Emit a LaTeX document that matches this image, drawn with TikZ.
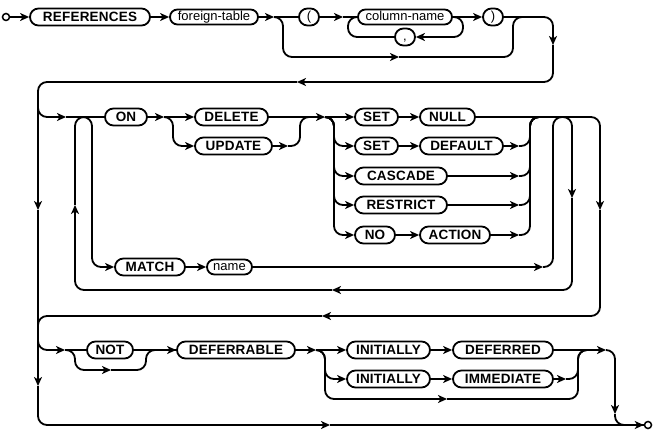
\documentclass[tikz,border=0pt]{standalone}
\usepackage{fontspec}
\newfontfamily\railidfam{Liberation Sans}
\newfontfamily\railkwfam{Liberation Sans}[LetterSpace=1.5]
\newcommand{\kwfont}{\railkwfam\bfseries\fontsize{13.5pt}{15pt}\selectfont}
\newcommand{\idfont}{\railidfam\fontsize{13pt}{15pt}\selectfont}
\usetikzlibrary{arrows.meta}
\tikzset{
  kwbox/.style={rectangle, rounded corners=8.5pt, draw, line width=1.8pt, minimum height=17pt, inner sep=0pt, text height=9.6pt, text depth=0pt, font=\kwfont},
  idbox/.style={rectangle, rounded corners=7.5pt, draw, line width=1.8pt, minimum height=15pt, inner sep=0pt, text height=9.3pt, text depth=2.7pt, font=\idfont},
  punct/.style={kwbox, minimum width=20pt, text depth=2.8pt, font=\idfont},
  endpt/.style={circle, draw, line width=1.5pt, minimum size=7pt, inner sep=0pt},
  rail/.style={line width=1.8pt, rounded corners=9pt},
  arr/.style={rail, -{Stealth[length=9pt, width=8pt, inset=2.5pt]}}
}

\begin{document}
\begin{tikzpicture}[x=1pt, y=-1pt]
  \useasboundingbox (0,0) rectangle (654,433);

  % REFERENCES foreign-table ( column-name, ... )
  \node[endpt] (start) at (6,17) {};
  \node[kwbox, minimum width=120pt] (refs) at (90,17) {REFERENCES};
  \node[idbox, minimum width=88pt] (ftab) at (214,17) {foreign-table};
  \node[punct] (lpar) at (309,17) {(};
  \node[idbox, minimum width=94pt] (colname) at (405,17) {column-name};
  \node[punct] (comma) at (405,37) {,};
  \node[punct] (rpar) at (493,17) {)};

  \coordinate (j1a) at (274,17);
  \coordinate (skipl) at (283,57);
  \coordinate (skipa) at (399,57);
  \coordinate (skipr) at (513,17);
  \coordinate (colin) at (343,17);
  \coordinate (colret) at (348,17);
  \coordinate (colout) at (463,17);
  \coordinate (dn1) at (553,45);
  \coordinate (back1) at (297,82);

  \draw[arr] (start) -- (refs);
  \draw[arr] (refs) -- (ftab);
  \draw[arr] (ftab) -- (j1a);
  \draw[rail] (j1a) -- (lpar);
  \draw[arr] (j1a) -| (skipl) -- (skipa);
  \draw[rail] (skipa) -| (skipr) -- ++(12,0);
  \draw[arr] (lpar) -- (colin);
  \draw[rail] (colin) -- (colname);
  \draw[arr] (colname.east) -| (colout |- comma.east) -- (comma.east);
  \draw[rail] (comma.west) -| (colret) -- (colname.west);
  \draw[arr] (colname.east) -- (rpar.west);
  \draw[arr] (rpar.east) -| (dn1);
  \draw[arr] (dn1) |- (back1);

  % ON DELETE/UPDATE action, MATCH name (repeated)
  \node[kwbox, minimum width=42pt] (on) at (126,117) {ON};
  \node[kwbox, minimum width=73pt] (del) at (231.5,117) {DELETE};
  \node[kwbox, minimum width=77pt] (upd) at (233.5,146) {UPDATE};
  \node[kwbox, minimum width=43pt] (set1) at (376.5,117) {SET};
  \node[kwbox, minimum width=55pt] (null) at (447.5,117) {NULL};
  \node[kwbox, minimum width=43pt] (set2) at (376.5,146) {SET};
  \node[kwbox, minimum width=83pt] (dflt) at (461.5,146) {DEFAULT};
  \node[kwbox, minimum width=92pt] (casc) at (401,176) {CASCADE};
  \node[kwbox, minimum width=92pt] (rstr) at (401,205) {RESTRICT};
  \node[kwbox, minimum width=40pt] (no) at (375,235) {NO};
  \node[kwbox, minimum width=70pt] (act) at (455,235) {ACTION};
  \node[kwbox, minimum width=70pt] (match) at (150,267) {MATCH};
  \node[idbox, minimum width=45pt] (name) at (229.5,267) {name};

  \coordinate (down1) at (38,210);
  \coordinate (onfork) at (38,100);
  \coordinate (lin) at (66,117);
  \coordinate (mv) at (92,117);
  \coordinate (loopup) at (75,205);
  \coordinate (onsplit) at (164,117);
  \coordinate (onv) at (173,117);
  \coordinate (updm) at (288,146);
  \coordinate (delm) at (300,117);
  \coordinate (actsplit) at (325,117);
  \coordinate (actv) at (334,117);
  \coordinate (actm) at (519,117);
  \coordinate (actmtop) at (530,117);
  \coordinate (mtchm) at (543,267);
  \coordinate (mtop) at (553,117);
  \coordinate (loopdn) at (572,198);
  \coordinate (loopbk) at (332,290);
  \coordinate (exitdn) at (600,210);
  \coordinate (exitbk) at (322,316);

  \draw[arr] (back1) -| (down1);
  \draw[arr] (onfork) |- (lin);
  \draw[rail] (lin) -- (on.west);
  \draw[arr] (lin) -| (mv |- match.west) -- (match.west);
  \draw[arr] (on.east) -- (onsplit);
  \draw[arr] (onsplit) -- (del.west);
  \draw[arr] (onsplit) -| (onv |- upd.west) -- (upd.west);
  \draw[arr] (del.east) -- (actsplit);
  \draw[arr] (upd.east) -- (updm);
  \draw[rail] (updm) -| (delm) -- ++(12,0);
  \draw[arr] (actsplit) -- (set1.west);
  \foreach \b in {set2, casc, rstr, no}
    \draw[arr] (actsplit) -| (actv |- \b.west) -- (\b.west);
  \draw[arr] (set1) -- (null);
  \draw[arr] (set2) -- (dflt);
  \draw[arr] (no) -- (act);
  \foreach \b in {dflt, casc, rstr, act} {
    \draw[arr] (\b.east) -- (\b.east -| actm);
    \draw[rail] (\b.east -| actm) -| (actmtop) -- ++(12,0);
  }
  \draw[arr] (match) -- (name);
  \draw[arr] (name.east) -- (mtchm);
  \draw[rail] (mtchm) -| (mtop) -- ++(12,0);
  \draw[arr] (mtop) -| (loopdn);
  \draw[arr] (loopdn) |- (loopbk);
  \draw[arr] (loopbk) -| (loopup);
  \draw[rail] (loopup) |- (on.west);
  \draw[arr] (null.east) -| (exitdn);
  \draw[arr] (exitdn) |- (exitbk);

  % NOT DEFERRABLE INITIALLY ...
  \node[kwbox, minimum width=46pt] (nt) at (110,350) {NOT};
  \node[kwbox, minimum width=118pt] (defr) at (236,350) {DEFERRABLE};
  \node[kwbox, minimum width=83pt] (ini1) at (388.5,350) {INITIALLY};
  \node[kwbox, minimum width=100pt] (dfrd) at (503,350) {DEFERRED};
  \node[kwbox, minimum width=83pt] (ini2) at (388.5,379) {INITIALLY};
  \node[kwbox, minimum width=100pt] (imm) at (503,379) {IMMEDIATE};
  \node[endpt] (finish) at (648,425) {};

  \coordinate (notfork) at (38,335);
  \coordinate (notin) at (65,350);
  \coordinate (notv) at (75,350);
  \coordinate (notskip) at (111,370);
  \coordinate (notm) at (146,350);
  \coordinate (down2) at (38,386);
  \coordinate (botmid) at (330,425);
  \coordinate (inisplit) at (316,350);
  \coordinate (iniv) at (325,350);
  \coordinate (iniskip) at (447,399);
  \coordinate (inim) at (578,350);
  \coordinate (immm) at (566,379);
  \coordinate (endarr) at (606,350);
  \coordinate (enddn) at (615,414);

  \draw[rail] (exitbk) -| (notfork);
  \draw[arr] (down1) -- (down2);
  \draw[arr] (down2) |- (botmid);
  \draw[arr] (botmid) -- (finish.west);
  \draw[arr] (notfork) |- (notin);
  \draw[rail] (notin) -- (nt.west);
  \draw[arr] (notin) -| (notv |- notskip) -- (notskip);
  \draw[rail] (notskip) -| (notm) -- (defr.west);
  \draw[arr] (nt.east) -- (defr.west);
  \draw[arr] (defr.east) -- (inisplit);
  \draw[arr] (inisplit) -- (ini1.west);
  \draw[arr] (inisplit) -| (iniv |- ini2.west) -- (ini2.west);
  \draw[arr] (inisplit) -| (iniv |- iniskip) -- (iniskip);
  \draw[rail] (iniskip) -| (inim) -- ++(12,0);
  \draw[arr] (ini1) -- (dfrd);
  \draw[arr] (ini2) -- (imm);
  \draw[arr] (imm.east) -- (immm);
  \draw[rail] (immm) -| (inim) -- ++(12,0);
  \draw[arr] (dfrd.east) -- (endarr);
  \draw[arr] (endarr) -| (enddn);
  \draw[rail] (enddn) |- (finish.west);
\end{tikzpicture}
\end{document}
